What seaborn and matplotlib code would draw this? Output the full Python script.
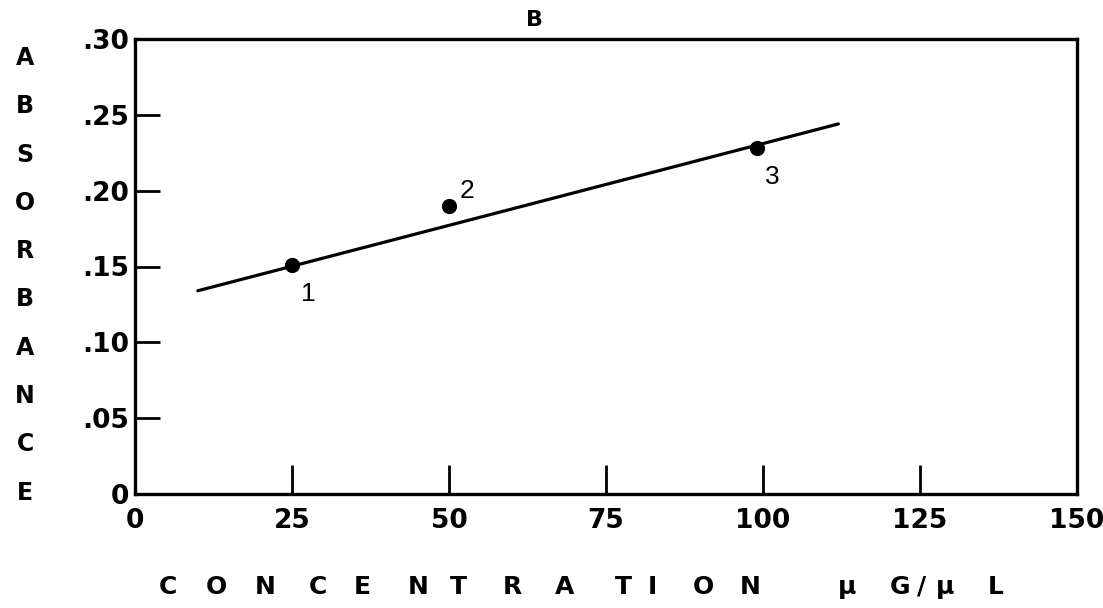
import matplotlib
matplotlib.use("Agg")
import matplotlib.pyplot as plt
import seaborn as sns
import pandas as pd

# Calibration data: concentration (ug/ul) vs absorbance
concentration = [25, 50, 99]
absorbance = [0.151, 0.190, 0.228]
point_labels = ["1", "2", "3"]

# Fitted calibration line end points
fit_concentration = [10, 112]
fit_absorbance = [0.134, 0.244]

x_ticks = [0, 25, 50, 75, 100, 125, 150]
x_ticklabels = ["0", "25", "50", "75", "100", "125", "150"]
y_ticks = [0, 0.05, 0.10, 0.15, 0.20, 0.25, 0.30]
y_ticklabels = ["0", ".05", ".10", ".15", ".20", ".25", ".30"]

panel_title = "B"
y_title = "ABSORBANCE"
x_title_word = "CONCENTRATION"
x_title_unit = ["μ", "G", "/", "μ", "L"]

sns.set_theme(style="white")
plt.rcParams["font.family"] = ["DejaVu Sans"]

W, H = 1103, 608
fig = plt.figure(figsize=(W / 100, H / 100), dpi=100)
fig.patch.set_facecolor("white")


def fx(px):
    return px / W


def fy(py):
    return 1 - py / H


ax = fig.add_axes([fx(135), fy(494), fx(1077) - fx(135), fy(39) - fy(494)])
ax.set_facecolor("white")

pts = pd.DataFrame({"conc": concentration, "abs": absorbance})
fit = pd.DataFrame({"conc": fit_concentration, "abs": fit_absorbance})

sns.lineplot(data=fit, x="conc", y="abs", ax=ax, color="black", linewidth=2.3)
sns.scatterplot(data=pts, x="conc", y="abs", ax=ax, color="black", s=120,
                edgecolor="black", linewidth=0, zorder=5)

offsets = [(12, -21), (13, 11), (11, -21)]
for xv, yv, lab, off in zip(concentration, absorbance, point_labels, offsets):
    ax.annotate(lab, (xv, yv), xytext=off, textcoords="offset points",
                ha="center", va="center", fontsize=19,
                family="Liberation Sans", color="black")

ax.set_xlim(0, 150)
ax.set_ylim(0, 0.30)
ax.set_xticks(x_ticks)
ax.set_xticklabels(x_ticklabels)
ax.set_yticks(y_ticks)
ax.set_yticklabels(y_ticklabels)
ax.set_xlabel("")
ax.set_ylabel("")

for side in ["left", "right", "top", "bottom"]:
    ax.spines[side].set_visible(True)
    ax.spines[side].set_color("black")
    ax.spines[side].set_linewidth(2.4)

ax.tick_params(axis="x", bottom=True, direction="in", length=21, width=2,
               color="black", pad=10, labelsize=19)
ax.tick_params(axis="y", left=True, direction="in", length=18, width=2,
               color="black", pad=4, labelsize=19)
for lab in ax.get_xticklabels() + ax.get_yticklabels():
    lab.set_fontweight("bold")
    lab.set_color("black")

# Panel letter above the frame
fig.text(fx(535), fy(20), panel_title, ha="center", va="center",
         fontsize=16, fontweight="bold", color="black")

# Vertical stacked axis title
for i, ch in enumerate(y_title):
    fig.text(fx(25), fy(58 + 48.3 * i), ch, ha="center", va="center",
             fontsize=17, fontweight="bold", color="black")

# Widely spaced horizontal axis title
word_x = [168, 216, 265, 318, 362, 418, 458, 512, 565, 623, 652, 703, 750]
for ch, px in zip(x_title_word, word_x):
    fig.text(fx(px), fy(587), ch, ha="center", va="center",
             fontsize=18, fontweight="bold", color="black")
unit_x = [847, 900, 922, 945, 996]
for ch, px in zip(x_title_unit, unit_x):
    fig.text(fx(px), fy(587), ch, ha="center", va="center",
             fontsize=18, fontweight="bold", color="black")

fig.savefig("out.png", dpi=100, facecolor="white")
